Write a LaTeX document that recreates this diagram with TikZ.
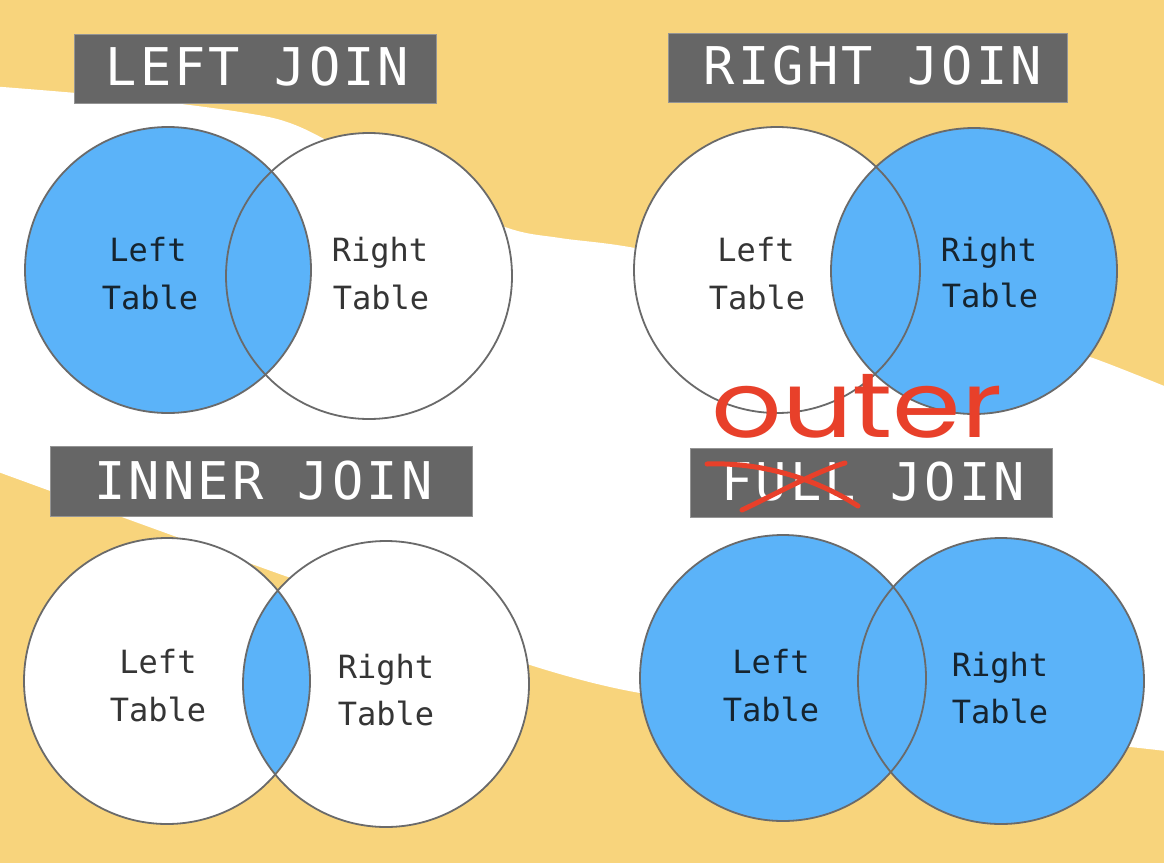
\documentclass[tikz,border=0pt]{standalone}
\usepackage{fontspec}
\newfontfamily\labelfont{DejaVu Sans Mono}
\newfontfamily\titlefont[LetterSpace=6]{DejaVu Sans Mono}
\newfontfamily\handfont{Poppins}
\definecolor{bgyellow}{HTML}{F8D47C}
\definecolor{jblue}{HTML}{5BB3F9}
\definecolor{boxgray}{HTML}{666666}
\definecolor{edgegray}{HTML}{6A6A6A}
\definecolor{inkred}{HTML}{E8402A}
\definecolor{darkblue}{HTML}{16242F}
\definecolor{darkgray}{HTML}{353535}
\tikzset{
  circedge/.style={draw=edgegray, line width=1.8pt},
  titlebox/.style={fill=boxgray, draw=boxgray!70!white, line width=0.8pt, inner sep=0pt, rectangle},
  titletext/.style={text=white, font=\titlefont\fontsize{52}{52}\selectfont, anchor=base, inner sep=0pt},
  onblue/.style={text=darkblue, font=\labelfont\fontsize{32}{32}\selectfont, anchor=base, inner sep=0pt},
  onwhite/.style={text=darkgray, font=\labelfont\fontsize{32}{32}\selectfont, anchor=base, inner sep=0pt},
  redstroke/.style={draw=inkred, line width=5pt, line cap=round}
}
\begin{document}
\begin{tikzpicture}[x=1pt,y=-1pt]
\useasboundingbox (0,0) rectangle (1164,862);
% background
\fill[bgyellow] (-2,-2) rectangle (1166,864);
\fill[white] plot[smooth, tension=0.5] coordinates {(-10,86) (120,97) (240,112) (300,127) (400,180) (505,227) (560,238) (635,248) (800,282) (1000,330) (1090,357) (1174,390)}
  -- (1174,752)
  -- plot[smooth, tension=0.5] coordinates {(1174,752) (1130,747) (1000,734) (800,712) (640,693) (530,665) (400,617) (260,567) (130,520) (-10,469)}
  -- cycle;
% circle centres
\coordinate (lja) at (168,270);
\coordinate (ljb) at (369,276);
\coordinate (rja) at (777,270);
\coordinate (rjb) at (974,271);
\coordinate (ija) at (167,681);
\coordinate (ijb) at (386,684);
\coordinate (fja) at (783,678);
\coordinate (fjb) at (1001,681);
% LEFT JOIN
\fill[jblue] (lja) circle[radius=143pt];
\fill[white] (ljb) circle[radius=143pt];
\begin{scope}
  \clip (ljb) circle[radius=143pt];
  \fill[jblue] (lja) circle[radius=143pt];
\end{scope}
\path[circedge] (lja) circle[radius=143pt];
\path[circedge] (ljb) circle[radius=143pt];
% RIGHT JOIN
\fill[white] (rja) circle[radius=143pt];
\fill[jblue] (rjb) circle[radius=143pt];
\path[circedge] (rja) circle[radius=143pt];
\path[circedge] (rjb) circle[radius=143pt];
% INNER JOIN
\fill[white] (ija) circle[radius=143pt];
\fill[white] (ijb) circle[radius=143pt];
\begin{scope}
  \clip (ijb) circle[radius=143pt];
  \fill[jblue] (ija) circle[radius=143pt];
\end{scope}
\path[circedge] (ija) circle[radius=143pt];
\path[circedge] (ijb) circle[radius=143pt];
% FULL JOIN
\fill[jblue] (fja) circle[radius=143pt];
\fill[jblue] (fjb) circle[radius=143pt];
\path[circedge] (fja) circle[radius=143pt];
\path[circedge] (fjb) circle[radius=143pt];
% title boxes
\node[titlebox, minimum width=362pt, minimum height=69pt] (boxleft) at (255,68.5) {};
\node[titlebox, minimum width=399pt, minimum height=69pt] (boxright) at (867.5,67.5) {};
\node[titlebox, minimum width=422pt, minimum height=70pt] (boxinner) at (261,481) {};
\node[titlebox, minimum width=362pt, minimum height=69pt] (boxfull) at (871,482.5) {};
\node[titletext] (tleft) at (257.5,85) {LEFT JOIN};
\node[titletext] (tright) at (873,84) {RIGHT JOIN};
\node[titletext] (tinner) at (263.5,499) {INNER JOIN};
\node[titletext] (tfull) at (873,500) {FULL JOIN};
% labels
\node[onblue] (lj-l1) at (148,261) {Left};
\node[onblue] (lj-l2) at (150,309) {Table};
\node[onwhite] (lj-r1) at (380,261) {Right};
\node[onwhite] (lj-r2) at (381,309) {Table};
\node[onwhite] (rj-l1) at (756,261) {Left};
\node[onwhite] (rj-l2) at (757,309) {Table};
\node[onblue] (rj-r1) at (989,261) {Right};
\node[onblue] (rj-r2) at (990,307) {Table};
\node[onwhite] (ij-l1) at (158,673) {Left};
\node[onwhite] (ij-l2) at (158,721) {Table};
\node[onwhite] (ij-r1) at (386,678) {Right};
\node[onwhite] (ij-r2) at (386,725) {Table};
\node[onblue] (fj-l1) at (771,673) {Left};
\node[onblue] (fj-l2) at (771,721) {Table};
\node[onblue] (fj-r1) at (1000,676) {Right};
\node[onblue] (fj-r2) at (1000,723) {Table};
% red annotation
\node[text=inkred, font=\handfont\fontsize{92}{92}\selectfont, anchor=base, inner sep=0pt] (outer) at (857,437) {\scalebox{1.2}[1]{outer}};
\coordinate (xa1) at (707,464);
\coordinate (xa2) at (858,506);
\coordinate (xb1) at (742,510);
\coordinate (xb2) at (845,463);
\draw[redstroke] (xa1) .. controls (760,462) and (815,478) .. (xa2);
\draw[redstroke] (xb1) .. controls (780,492) and (815,472) .. (xb2);
\end{tikzpicture}
\end{document}
